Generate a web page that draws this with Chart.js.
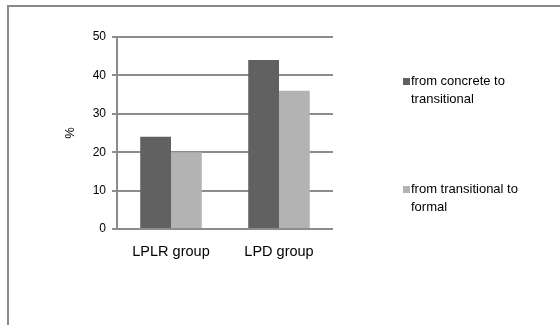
<!DOCTYPE html>
<html>
<head>
<meta charset="utf-8">
<script src="https://cdn.jsdelivr.net/npm/chart.js@4/dist/chart.umd.min.js"></script>
<style>
  html, body { margin: 0; padding: 0; background: #fff; }
  #wrap { position: relative; width: 560px; height: 325px; overflow: hidden; }
  #frame { position: absolute; left: 7px; top: 5px; width: 600px; height: 400px;
           border-left: 2px solid #8a8a8a; border-top: 2px solid #8a8a8a; box-sizing: border-box; }
  canvas { position: absolute; left: 0; top: 0; }
</style>
</head>
<body>
<div id="wrap">
  <div id="frame"></div>
  <canvas id="c" width="560" height="325"></canvas>
</div>
<script>
// Groups on the x axis
const categories = ['LPLR group', 'LPD group'];
// Share (%) of pupils in each transition
const concreteToTransitional = [24, 44];
const transitionalToFormal = [20, 36];
// Legend entries, split into the lines they wrap to
const seriesNames = [
  ['from concrete to', 'transitional'],
  ['from transitional to', 'formal']
];
const yTicks = [0, 10, 20, 30, 40, 50];

const FONT = '"Liberation Sans", Arial, sans-serif';

// Draws the wrapped legend to the right of the plot
const sideLegend = {
  id: 'sideLegend',
  afterDraw(chart) {
    const ctx = chart.ctx;
    const rows = [81, 189];
    ctx.save();
    ctx.font = '13px ' + FONT;
    ctx.textBaseline = 'middle';
    ctx.textAlign = 'left';
    chart.data.datasets.forEach((ds, i) => {
      const y = rows[i];
      ctx.fillStyle = ds.backgroundColor;
      ctx.fillRect(403, y - 3, 7, 7);
      ctx.fillStyle = '#000';
      ds.label.forEach((line, j) => ctx.fillText(line, 411, y + j * 18));
    });
    ctx.restore();
  }
};

new Chart(document.getElementById('c'), {
  type: 'bar',
  data: {
    labels: categories,
    datasets: [
      { label: seriesNames[0], data: concreteToTransitional, backgroundColor: '#616161' },
      { label: seriesNames[1], data: transitionalToFormal, backgroundColor: '#b3b3b3' }
    ]
  },
  options: {
    responsive: false,
    animation: false,
    devicePixelRatio: 1,
    layout: { padding: { left: 63, right: 227, top: 37, bottom: 0 } },
    plugins: { legend: { display: false }, tooltip: { enabled: false } },
    datasets: { bar: { categoryPercentage: 0.57, barPercentage: 1.0 } },
    scales: {
      x: {
        grid: { display: false, drawTicks: false },
        border: { display: false },
        ticks: { color: '#000', font: { family: FONT, size: 14.5 }, padding: 14 },
        afterFit(scale) { scale.height = 96; }
      },
      y: {
        min: 0, max: 50,
        afterBuildTicks(scale) { scale.ticks = yTicks.map(v => ({ value: v })); },
        grid: { color: '#8c8c8c', lineWidth: 2, tickLength: 5, drawTicks: true },
        border: { display: true, color: '#8c8c8c', width: 2 },
        ticks: { color: '#000', font: { family: FONT, size: 12 }, padding: 6 },
        title: { display: true, text: '%', color: '#000', font: { family: FONT, size: 13 }, padding: 0 },
        afterFit(scale) { scale.width = 54; }
      }
    }
  },
  plugins: [sideLegend]
});
</script>
</body>
</html>
